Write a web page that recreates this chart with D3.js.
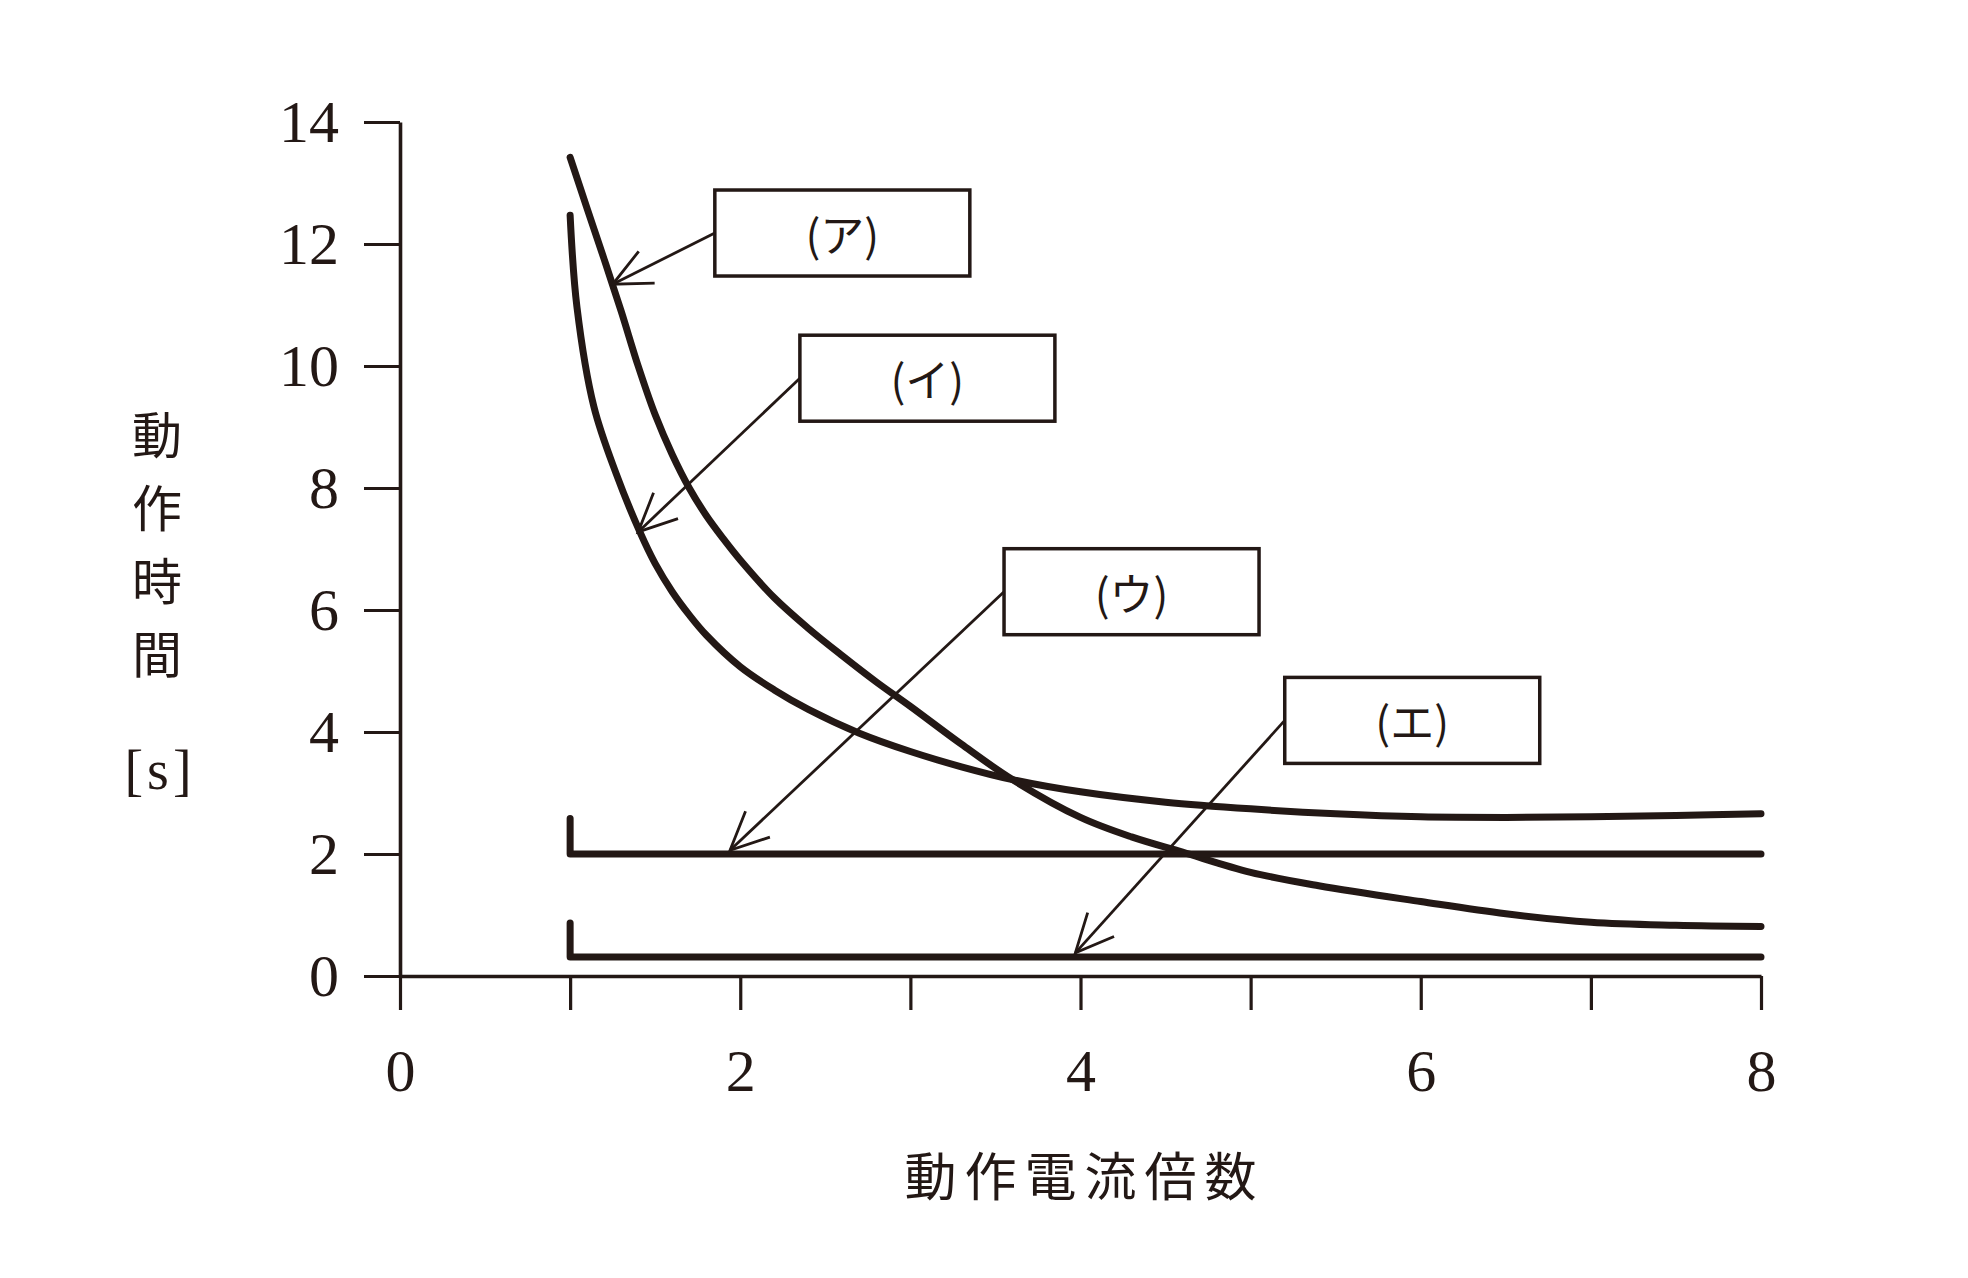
<!DOCTYPE html>
<html>
<head>
<meta charset="utf-8">
<script src="https://cdn.jsdelivr.net/npm/d3@7"></script>
<style>
  body { margin: 0; background: #fff; }
</style>
</head>
<body>
<div id="chart"></div>
<script>
// ----- data -----
const xTicks = [0, 1, 2, 3, 4, 5, 6, 7, 8];
const xTickLabels = ["0", "", "2", "", "4", "", "6", "", "8"];
const yTicks = [0, 2, 4, 6, 8, 10, 12, 14];

// (ア) curve
const curveAX = [1.0, 1.1, 1.2, 1.3, 1.4, 1.5, 1.6, 1.7, 1.8, 1.9, 2.0, 2.2, 2.4, 2.6, 2.8, 3.0, 3.3, 3.6, 4.0, 4.3, 4.6, 5.0, 5.4, 6.0, 6.5, 7.0, 7.5, 8.0];
const curveAT = [13.42, 12.58, 11.75, 10.9, 10.0, 9.2, 8.55, 8.0, 7.55, 7.17, 6.82, 6.2, 5.7, 5.25, 4.82, 4.42, 3.8, 3.22, 2.6, 2.28, 2.03, 1.7, 1.48, 1.22, 1.02, 0.88, 0.83, 0.81];
// (イ) curve
const curveIX = [1.0, 1.04, 1.14, 1.27, 1.41, 1.5, 1.6, 1.7, 1.8, 2.0, 2.2, 2.4, 2.7, 3.0, 3.3, 3.6, 4.0, 4.5, 5.0, 5.5, 6.0, 6.5, 7.0, 7.5, 8.0];
const curveIT = [12.47, 10.97, 9.33, 8.24, 7.28, 6.76, 6.3, 5.92, 5.59, 5.07, 4.69, 4.37, 3.98, 3.68, 3.43, 3.22, 3.02, 2.85, 2.74, 2.66, 2.61, 2.6, 2.61, 2.63, 2.66];
// (ウ) definite time
const curveUX = [1, 1, 8];
const curveUT = [2.58, 2.0, 2.0];
// (エ) instantaneous
const curveEX = [1, 1, 8];
const curveET = [0.87, 0.31, 0.31];

// annotation labels, box centres and arrow tips (data units)
const labels = ["(ア)", "(イ)", "(ウ)", "(エ)"];
const boxCenters = [[2.60, 12.18], [3.10, 9.80], [4.30, 6.30], [5.95, 4.19]];
const arrowTips = [[1.25, 11.34], [1.40, 7.28], [1.94, 2.06], [3.97, 0.38]];

// ----- layout -----
const ink = "#231815";
const margin = { top: 122, right: 207, bottom: 302, left: 400 };
const fullWidth = 1968, fullHeight = 1278;
const width = fullWidth - margin.left - margin.right;
const height = fullHeight - margin.top - margin.bottom;
const serif = "'Liberation Serif', 'DejaVu Serif', serif";
const cjk = "'Noto Sans CJK JP', sans-serif";

const root = d3.select("#chart")
    .append("svg")
    .attr("width", fullWidth)
    .attr("height", fullHeight)
    .style("background", "#fff");

const svg = root.append("g")
    .attr("transform", `translate(${margin.left},${margin.top})`);

const x = d3.scaleLinear().domain([0, 8]).range([0, width]);
const y = d3.scaleLinear().domain([0, 14]).range([height, 0]);

// axes
const yAxis = svg.append("g")
    .attr("color", ink)
    .call(d3.axisLeft(y).tickValues(yTicks).tickSize(36).tickSizeOuter(0).tickPadding(25).tickFormat(d3.format("d")));

const xAxis = svg.append("g")
    .attr("color", ink)
    .attr("transform", `translate(0,${height})`)
    .call(d3.axisBottom(x).tickValues(xTicks).tickSize(34).tickSizeOuter(0).tickPadding(38).tickFormat((d, i) => xTickLabels[i]));

[yAxis, xAxis].forEach(ax => {
    ax.attr("font-family", serif).attr("font-size", 60);
    ax.select(".domain").attr("stroke-width", 3.6);
    ax.selectAll(".tick line").attr("stroke-width", 3.2);
    ax.selectAll(".tick text").attr("fill", ink);
});

// curves
const line = d3.line()
    .x(d => x(d[0]))
    .y(d => y(d[1]));

const zip = (xs, ts) => xs.map((v, i) => [v, ts[i]]);

[zip(curveAX, curveAT), zip(curveIX, curveIT)].forEach(pts => {
    svg.append("path")
        .datum(pts)
        .attr("fill", "none")
        .attr("stroke", ink)
        .attr("stroke-width", 7)
        .attr("stroke-linecap", "round")
        .attr("d", line.curve(d3.curveCatmullRom.alpha(0.5)));
});

[zip(curveUX, curveUT), zip(curveEX, curveET)].forEach(pts => {
    svg.append("path")
        .datum(pts)
        .attr("fill", "none")
        .attr("stroke", ink)
        .attr("stroke-width", 7)
        .attr("stroke-linecap", "round")
        .attr("stroke-linejoin", "round")
        .attr("d", line.curve(d3.curveLinear));
});

// label boxes with arrows
const boxW = 255, boxH = 86, wing = 42, wingAngle = 25 * Math.PI / 180;

labels.forEach((lab, i) => {
    const cx = x(boxCenters[i][0]), cy = y(boxCenters[i][1]);
    const tx = x(arrowTips[i][0]), ty = y(arrowTips[i][1]);
    const sx = cx - boxW / 2, sy = cy;

    svg.append("line")
        .attr("x1", sx).attr("y1", sy)
        .attr("x2", tx).attr("y2", ty)
        .attr("stroke", ink)
        .attr("stroke-width", 2.8);

    // open arrow head
    const back = Math.atan2(sy - ty, sx - tx);
    const head = [-1, 1].map(s => [tx + wing * Math.cos(back + s * wingAngle), ty + wing * Math.sin(back + s * wingAngle)]);
    svg.append("path")
        .attr("d", `M${head[0][0]},${head[0][1]}L${tx},${ty}L${head[1][0]},${head[1][1]}`)
        .attr("fill", "none")
        .attr("stroke", ink)
        .attr("stroke-width", 2.8)
        .attr("stroke-linejoin", "miter");

    svg.append("rect")
        .attr("x", cx - boxW / 2)
        .attr("y", cy - boxH / 2)
        .attr("width", boxW)
        .attr("height", boxH)
        .attr("fill", "#fff")
        .attr("stroke", ink)
        .attr("stroke-width", 3.5);

    svg.append("text")
        .attr("x", cx)
        .attr("y", cy)
        .attr("text-anchor", "middle")
        .attr("dominant-baseline", "central")
        .attr("font-family", cjk)
        .attr("font-size", 44)
        .attr("fill", ink)
        .text(lab);
});

// axis titles
const yTitle = ["動", "作", "時", "間"];
root.append("g")
    .selectAll("text")
    .data(yTitle)
    .enter().append("text")
    .attr("x", 157)
    .attr("y", (d, i) => 432 + i * 73)
    .attr("text-anchor", "middle")
    .attr("dominant-baseline", "central")
    .attr("font-family", cjk)
    .attr("font-size", 50)
    .attr("fill", ink)
    .text(d => d);

root.append("text")
    .attr("x", 160)
    .attr("y", 770)
    .attr("text-anchor", "middle")
    .attr("dominant-baseline", "central")
    .attr("font-family", serif)
    .attr("font-size", 56)
    .attr("letter-spacing", 4)
    .attr("fill", ink)
    .text("[s]");

root.append("text")
    .attr("x", margin.left + x(4) + 4)
    .attr("y", 1173)
    .attr("text-anchor", "middle")
    .attr("dominant-baseline", "central")
    .attr("font-family", cjk)
    .attr("font-size", 52)
    .attr("letter-spacing", 8)
    .attr("fill", ink)
    .text("動作電流倍数");
</script>
</body>
</html>
